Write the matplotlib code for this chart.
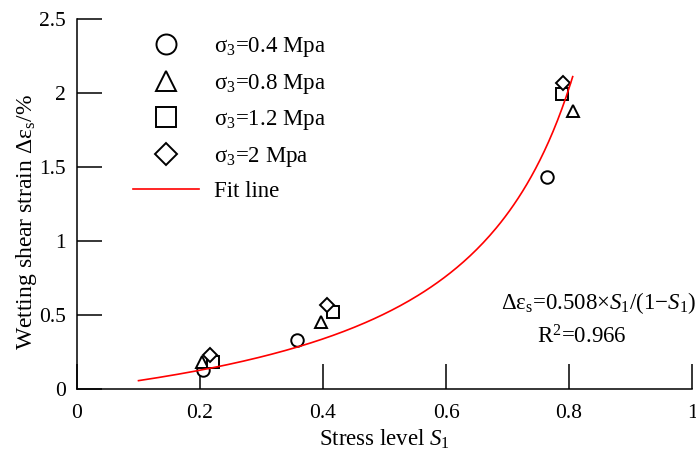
import numpy as np
import matplotlib
matplotlib.use('Agg')
import matplotlib.pyplot as plt

plt.rcParams['font.family'] = ['Liberation Serif', 'DejaVu Serif']
plt.rcParams['mathtext.fontset'] = 'custom'
plt.rcParams['mathtext.rm'] = 'Liberation Serif'
plt.rcParams['mathtext.it'] = 'Liberation Serif:italic'

# 数据: 应力水平 S1 与湿化剪应变
s1_04 = [0.205, 0.357, 0.765]
eps_04 = [0.13, 0.33, 1.43]
s1_08 = [0.204, 0.396, 0.807]
eps_08 = [0.18, 0.45, 1.88]
s1_12 = [0.221, 0.416, 0.788]
eps_12 = [0.18, 0.52, 1.99]
s1_20 = [0.217, 0.406, 0.790]
eps_20 = [0.23, 0.57, 2.07]

labels = ['σ$_3$=0.4 Mpa', 'σ$_3$=0.8 Mpa', 'σ$_3$=1.2 Mpa', 'σ$_3$=2 Mpa']

# 拟合: 0.508*S1/(1-S1)
fit_a = 0.508
fit_x = np.linspace(0.1, 0.806, 200)
fit_y = fit_a * fit_x / (1 - fit_x)

x_ticks = [0, 0.2, 0.4, 0.6, 0.8, 1]
x_tick_labels = ['0', '0.2', '0.4', '0.6', '0.8', '1']
y_ticks = [0, 0.5, 1, 1.5, 2, 2.5]
y_tick_labels = ['0', '0.5', '1', '1.5', '2', '2.5']

fig = plt.figure(figsize=(6.96, 4.51), dpi=100)
ax = fig.add_axes([77/696, 1-389/451, (692-77)/696, (389-19)/451])

ms = 9
ax.plot(s1_04, eps_04, 'o', mfc='white', mec='black', mew=1.4, ms=ms, label=labels[0], ls='none')
ax.plot(s1_08, eps_08, '^', mfc='white', mec='black', mew=1.4, ms=ms, label=labels[1], ls='none')
ax.plot(s1_12, eps_12, 's', mfc='white', mec='black', mew=1.4, ms=ms, label=labels[2], ls='none')
ax.plot(s1_20, eps_20, 'D', mfc='white', mec='black', mew=1.4, ms=ms*0.8, label=labels[3], ls='none')
ax.plot(fit_x, fit_y, color='red', lw=1.2, label='Fit line')

ax.set_xlim(0, 1)
ax.set_ylim(0, 2.5)
ax.set_xticks(x_ticks)
ax.set_xticklabels(x_tick_labels)
ax.set_yticks(y_ticks)
ax.set_yticklabels(y_tick_labels)
ax.spines['top'].set_visible(False)
ax.spines['right'].set_visible(False)
for sp in ['left', 'bottom']:
    ax.spines[sp].set_linewidth(1.1)
ax.tick_params(axis='x', direction='in', length=18, width=1.1, labelsize=15.5, pad=11)
ax.tick_params(axis='y', direction='in', length=18, width=1.1, labelsize=15.5, pad=8)

ax.set_xlabel('Stress level $S_1$', fontsize=16.5, labelpad=3)
ax.set_ylabel('Wetting shear strain Δε$_\\mathrm{s}$/%', fontsize=17)
ax.yaxis.set_label_coords(-0.062, 0.45)

ax.text(0.849, 0.232, 'Δε$_\\mathrm{s}$=0.508×$S_1$/(1−$S_1$)', transform=ax.transAxes,
        fontsize=16.5, ha='center', va='center')
ax.text(0.821, 0.141, 'R$^2$=0.966', transform=ax.transAxes,
        fontsize=16.5, ha='center', va='center')

leg = ax.legend(loc='upper left', bbox_to_anchor=(133/696, 1-35/451),
                bbox_transform=fig.transFigure, frameon=False, fontsize=16.5,
                markerscale=1.6, handlelength=2.9, handletextpad=0.65,
                labelspacing=0.55, borderpad=0, borderaxespad=0)

fig.savefig('out.png', dpi=100)
